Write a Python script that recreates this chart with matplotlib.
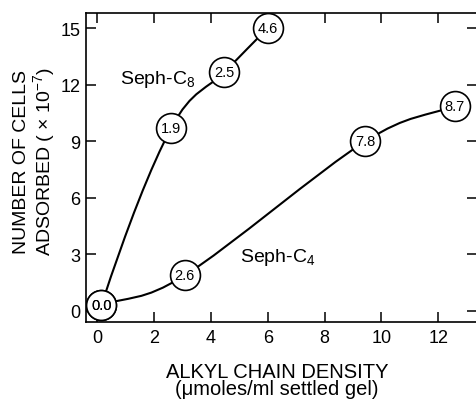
import numpy as np
import matplotlib
matplotlib.use("Agg")
import matplotlib.pyplot as plt
from matplotlib.path import Path
from matplotlib.patches import PathPatch

plt.rcParams["font.family"] = ["Liberation Sans", "DejaVu Sans"]
plt.rcParams["mathtext.fontset"] = "custom"
plt.rcParams["mathtext.rm"] = "Liberation Sans"
plt.rcParams["mathtext.it"] = "Liberation Sans:italic"

# Seph-C8 series (x = alkyl chain density, y = cells adsorbed x1e-7, label in circle)
c8_x = [0.15, 2.61, 4.48, 6.00]
c8_y = [0.28, 9.71, 12.66, 15.00]
c8_labels = ["0.0", "1.9", "2.5", "4.6"]

# Seph-C4 series
c4_x = [0.15, 3.08, 9.42, 12.58]
c4_y = [0.28, 1.87, 8.98, 10.89]
c4_labels = ["0.0", "2.6", "7.8", "8.7"]

xticks = [0, 2, 4, 6, 8, 10, 12]
yticks = [0, 3, 6, 9, 12, 15]


def smooth_path(xs, ys, bend_start=False):
    # Catmull-Rom through the points, drawn as cubic Bezier segments
    p = np.column_stack([xs, ys]).astype(float)
    n = len(p)
    t = np.zeros_like(p)
    for i in range(1, n - 1):
        t[i] = (p[i + 1] - p[i - 1]) / 2
    if bend_start:
        t[0] = 2 * (p[1] - p[0]) - t[1]
    else:
        t[0] = p[1] - p[0]
    t[-1] = p[-1] - p[-2]
    verts = [p[0]]
    codes = [Path.MOVETO]
    for i in range(n - 1):
        verts += [p[i] + t[i] / 3, p[i + 1] - t[i + 1] / 3, p[i + 1]]
        codes += [Path.CURVE4] * 3
    return Path(verts, codes)


fig = plt.figure(figsize=(4.77, 4.02), dpi=100)
ax = fig.add_axes([0.1803, 0.1965, 0.8197, 0.7687])

ax.add_patch(PathPatch(smooth_path(c8_x, c8_y, bend_start=True), fill=False,
                       lw=1.5, color="black", zorder=2))
ax.add_patch(PathPatch(smooth_path(c4_x, c4_y), fill=False,
                       lw=1.5, color="black", zorder=2))

for xs, ys, labs in [(c8_x, c8_y, c8_labels), (c4_x, c4_y, c4_labels)]:
    ax.plot(xs, ys, "o", ms=21.5, mfc="white", mec="black", mew=1.2,
            ls="none", zorder=3)
    for x, y, s in zip(xs, ys, labs):
        ax.text(x, y, s, ha="center", va="center", fontsize=10.5, zorder=4)

ax.text(0.79, 12.3, "Seph-C$_8$", fontsize=14, ha="left", va="center")
ax.text(5.04, 2.86, "Seph-C$_4$", fontsize=14, ha="left", va="center")

ax.set_xlim(-0.39, 13.36)
ax.set_ylim(-0.6, 15.8)
ax.set_xticks(xticks)
ax.set_yticks(yticks)
ax.tick_params(axis="both", direction="in", length=7, width=1.1,
               labelsize=13, top=True, right=True)
ax.tick_params(axis="x", pad=5)
ax.tick_params(axis="y", pad=4)
for side in ["left", "bottom", "top"]:
    ax.spines[side].set_linewidth(1.2)
ax.spines["right"].set_visible(False)

fig.text(0.581, 0.0734, "ALKYL CHAIN DENSITY", fontsize=14.5,
         ha="center", va="center")
fig.text(0.581, 0.030, "(μmoles/ml settled gel)", fontsize=14.5,
         ha="center", va="center")
fig.text(0.046, 0.597, "NUMBER OF CELLS", fontsize=14, rotation=90,
         ha="center", va="center")
fig.text(0.093, 0.597, "ADSORBED ( × 10$^{-7}$)", fontsize=14, rotation=90,
         ha="center", va="center")

fig.savefig("out.png", dpi=100)
